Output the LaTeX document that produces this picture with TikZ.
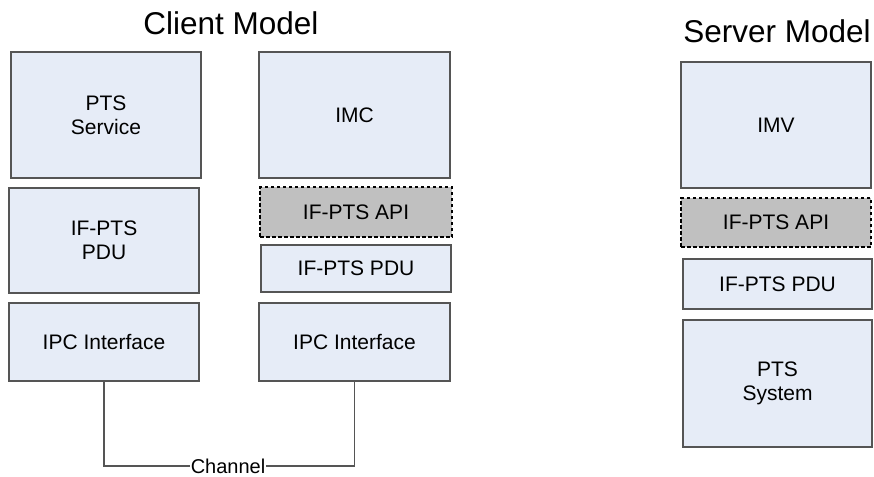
\documentclass[tikz,border=0pt]{standalone}
\usepackage{fontspec}
\setmainfont{Liberation Sans}
\definecolor{layerfill}{RGB}{230,236,247}
\definecolor{layerline}{RGB}{85,85,85}
\definecolor{apifill}{RGB}{192,192,192}
\begin{document}
\begin{tikzpicture}[x=1pt,y=-1pt,
  layer/.style={draw=layerline, line width=1.1pt, fill=layerfill, inner sep=0pt,
    align=center, font=\fontsize{21}{24}\selectfont},
  apilayer/.style={layer, draw=black, fill=apifill, line width=2.4pt, dash pattern=on 3.5pt off 2.5pt},
  title/.style={font=\fontsize{31.5}{35}\selectfont, inner sep=0pt},
  wire/.style={draw=layerline, line width=1.1pt}]
\useasboundingbox (0,0) rectangle (874,476);
% box from (x1,y1) to (x2,y2)
\newcommand{\layerbox}[7][layer]{%
  \node[#1, minimum width={#5-#3}, minimum height={#6-#4}] (#2) at ({(#3+#5)/2},{(#4+#6)/2}) {#7};}
% Client model
\node[title] (ctitle) at (231,23) {Client Model};
\layerbox{svc}{11}{52}{201}{178}{PTS\\Service}
\layerbox{cpdu}{9}{188}{199}{293}{IF-PTS\\PDU}
\layerbox{cipc}{9}{303}{199}{381}{IPC Interface}
\layerbox{imc}{259}{52}{450}{178}{IMC}
\layerbox[apilayer]{capi}{260}{187}{452}{237}{IF-PTS API}
\layerbox{cpdu2}{261}{245}{451}{292}{IF-PTS PDU}
\layerbox{cipc2}{259}{303}{450}{381}{IPC Interface}
% Channel between the two IPC interfaces
\node[font=\fontsize{20}{23}\selectfont, inner sep=0.5pt] (chan) at (228,466) {Channel};
\draw[wire] (cipc.south) |- (chan.west);
\draw[wire] (chan.east) -| (cipc2.south);
% Server model
\node[title] (stitle) at (777,31) {Server Model};
\layerbox{imv}{681}{62}{871}{188}{IMV}
\layerbox[apilayer]{sapi}{681}{198}{871}{247}{IF-PTS API}
\layerbox{spdu}{683}{259}{872}{309}{IF-PTS PDU}
\layerbox{sys}{683}{320}{872}{447}{PTS\\System}
\end{tikzpicture}
\end{document}
